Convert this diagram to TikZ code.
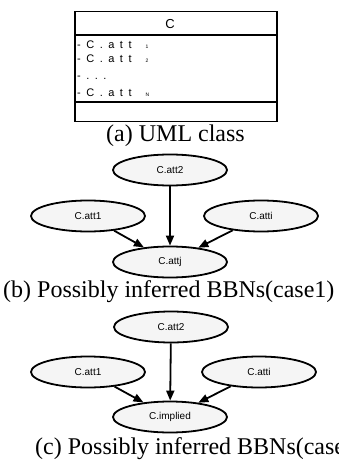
\documentclass[tikz,border=0pt]{standalone}
\usepackage{fontspec}
\setmainfont{Liberation Serif}
\setsansfont{Liberation Sans}
\usetikzlibrary{shapes.geometric,arrows.meta}

% spacing between the glyphs of an attribute entry
\newcommand{\gsp}{\hspace{5.5pt}}
\newcommand{\attsub}[1]{\hspace{14pt}{\fontsize{5}{6}\selectfont #1}}

\begin{document}
\begin{tikzpicture}[x=1pt,y=-1pt,
  bn/.style={ellipse,draw,line width=1.8pt,fill=black!4,minimum width=114pt,
    minimum height=31pt,inner sep=0pt,font=\sffamily\fontsize{10}{12}\selectfont},
  dep/.style={line width=1.8pt,-{Triangle[length=10pt,width=8pt]}},
  umlline/.style={line width=1.6pt},
  attr/.style={anchor=base west,inner sep=0pt,font=\sffamily\fontsize{11}{13}\selectfont},
  capt/.style={anchor=base west,inner sep=0pt,font=\fontsize{24}{28}\selectfont}]
\clip (0,0) rectangle (338,462);

% ---- UML class box ----
\node[draw,umlline,minimum width=202pt,minimum height=110pt,inner sep=0pt] (cls) at (176,66.5) {};
\draw[umlline] (cls.west |- 0,35) -- (cls.east |- 0,35);
\draw[umlline] (cls.west |- 0,102) -- (cls.east |- 0,102);
\node[anchor=base,inner sep=0pt,font=\sffamily\fontsize{13}{15}\selectfont] (cname) at (170,29) {C};
\node[attr] (a1) at (77,49) {-\gsp C\gsp .\gsp a\gsp t\gsp t\attsub{1}};
\node[attr] (a2) at (77,63) {-\gsp C\gsp .\gsp a\gsp t\gsp t\attsub{2}};
\node[attr] (a3) at (77,80) {-\gsp .\gsp .\gsp .};
\node[attr] (a4) at (77,97) {-\gsp C\gsp .\gsp a\gsp t\gsp t\attsub{N}};
\node[capt] (capa) at (106,142) {(a) UML class};

% ---- case 1 network ----
\node[bn] (b2) at (170,170) {C.att2};
\node[bn] (b1) at (88,216) {C.att1};
\node[bn] (bi) at (261,216) {C.atti};
\node[bn] (bj) at (170,262) {C.attj};
\draw[dep] (b2) -- (bj);
\draw[dep] (b1) -- (bj);
\draw[dep] (bi) -- (bj);
\node[capt] (capb) at (3,297) {(b) Possibly inferred BBNs(case1)};

% ---- case 2 network ----
\node[bn] (c2) at (171,327) {C.att2};
\node[bn] (c1) at (88,372) {C.att1};
\node[bn] (ci) at (259,372) {C.atti};
\node[bn] (cim) at (170,417) {C.implied};
\draw[dep] (c2) -- (cim);
\draw[dep] (c1) -- (cim);
\draw[dep] (ci) -- (cim);
\node[capt] (capc) at (35,454) {(c) Possibly inferred BBNs(case};
\end{tikzpicture}
\end{document}
